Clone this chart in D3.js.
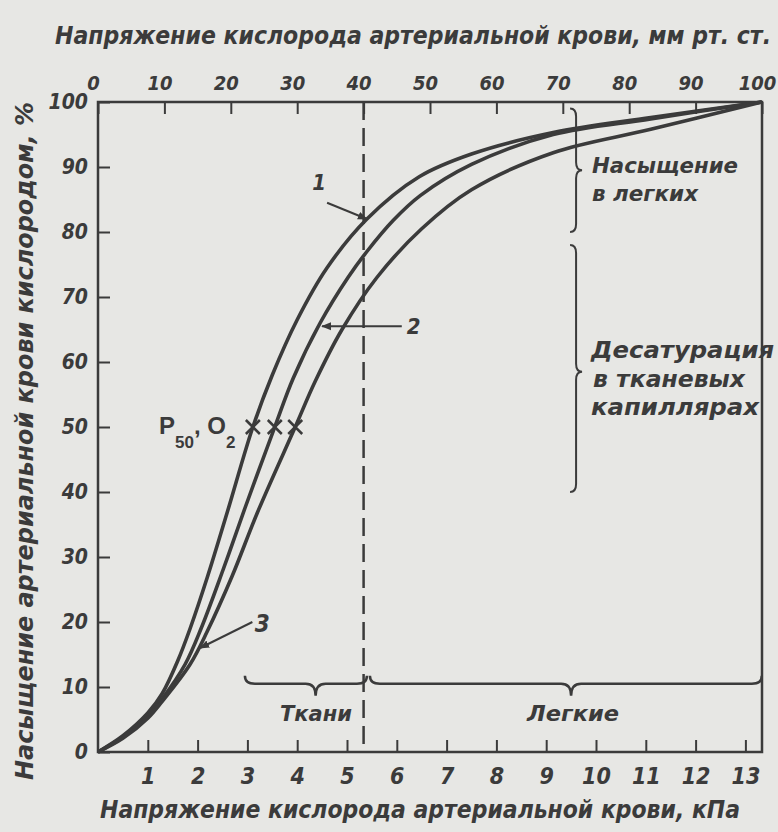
<!DOCTYPE html>
<html>
<head>
<meta charset="utf-8">
<script src="https://cdn.jsdelivr.net/npm/d3@7"></script>
<style>
  body { margin: 0; background: #e7e7e4; }
  svg text { font-family: "Liberation Sans Narrow", "DejaVu Sans Condensed", "Liberation Sans", sans-serif; font-style: italic; font-weight: bold; fill: #3b3b3b; }
</style>
</head>
<body>
<div id="chart"></div>
<script>
// ticks
var kpaTicks = [1, 2, 3, 4, 5, 6, 7, 8, 9, 10, 11, 12, 13];
var mmTicks = [0, 10, 20, 30, 40, 50, 60, 70, 80, 90, 100];
var satTicks = [0, 10, 20, 30, 40, 50, 60, 70, 80, 90, 100];

// curves: [kPa, saturation %]
var curve1 = [[0, 0], [0.5, 2.5], [1.0, 6], [1.29, 9], [1.6, 14], [1.85, 19], [2.2, 27], [2.6, 37], [3.11, 50], [3.5, 58], [4.0, 66.5], [4.6, 74.5], [5.4, 82], [6.45, 88.5], [7.5, 92], [9.14, 95.3], [11.1, 97.6], [13.33, 100]];
var curve2 = [[0, 0], [0.5, 2.3], [1.0, 5.5], [1.29, 8.2], [1.75, 13.5], [2.07, 19], [2.51, 28], [2.95, 37.5], [3.55, 50], [3.92, 57.5], [4.46, 66], [5.02, 73], [5.4, 77], [5.93, 81.8], [6.47, 85.6], [7.5, 90.4], [9.14, 95], [11.1, 97.4], [13.33, 100]];
var curve3 = [[0, 0], [0.5, 2.1], [1.0, 5.2], [1.29, 7.8], [1.85, 13.5], [2.19, 18.5], [2.69, 27], [3.21, 37], [3.96, 50], [4.36, 57], [4.9, 65], [5.6, 73], [6.5, 80.5], [7.5, 86.5], [9.14, 92.2], [11.1, 95.8], [13.33, 100]];
var p50 = [3.11, 3.55, 3.96];   // kPa at 50 %

// annotations (mm Hg / % / kPa)
var dashedMm = 40;
var lungSat = [99, 80];        // Насыщение в легких
var tissueSat = [78, 40];      // Десатурация
var tissueKpa = [2.95, 5.4];   // Ткани
var lungKpa = [5.46, 13.33];   // Легкие

var w = 778, h = 832;
var svg = d3.select("#chart").append("svg")
  .attr("width", w)
  .attr("height", h);

var x = d3.scaleLinear().domain([0, 100 / 7.5]).range([98, 762]);
var xMm = d3.scaleLinear().domain([0, 100]).range([98, 762]);
var y = d3.scaleLinear().domain([0, 100]).range([752, 102]);

var ink = "#3b3b3b";

svg.append("defs").append("marker")
  .attr("id", "arr")
  .attr("viewBox", "0 0 10 10")
  .attr("refX", 9).attr("refY", 5)
  .attr("markerWidth", 5).attr("markerHeight", 5)
  .attr("orient", "auto")
  .append("path")
  .attr("d", "M0,1L10,5L0,9z")
  .attr("fill", ink);

// frame
svg.append("rect")
  .attr("x", x(0)).attr("y", y(100))
  .attr("width", x.range()[1] - x(0))
  .attr("height", y(0) - y(100))
  .attr("fill", "none")
  .attr("stroke", ink)
  .attr("stroke-width", 2.5);

// axes
var gb = svg.append("g")
  .attr("transform", "translate(0," + y(0) + ")")
  .call(d3.axisBottom(x).tickValues(kpaTicks).tickSizeInner(-12).tickSizeOuter(0).tickPadding(16));
var gt = svg.append("g")
  .attr("transform", "translate(0," + y(100) + ")")
  .call(d3.axisTop(xMm).tickValues(mmTicks).tickSizeInner(-12).tickSizeOuter(0).tickPadding(12));
var gl = svg.append("g")
  .attr("transform", "translate(" + x(0) + ",0)")
  .call(d3.axisLeft(y).tickValues(satTicks).tickSizeInner(-12).tickSizeOuter(0).tickPadding(10));

[gb, gt, gl].forEach(function(g) {
  g.select(".domain").remove();
  g.selectAll(".tick line").attr("stroke", ink).attr("stroke-width", 2);
  g.selectAll(".tick text").attr("font-size", 21).attr("fill", ink);
});
gb.selectAll(".tick text").attr("font-size", 23);
gt.selectAll(".tick text").attr("font-size", 20).attr("dx", -5);

// dashed line at 40 mm Hg
svg.append("line")
  .attr("x1", xMm(dashedMm)).attr("x2", xMm(dashedMm))
  .attr("y1", y(100)).attr("y2", y(0))
  .attr("stroke", ink)
  .attr("stroke-width", 2.5)
  .attr("stroke-dasharray", "18,8");

// curves
var line = d3.line()
  .x(function(d) { return x(d[0]); })
  .y(function(d) { return y(d[1]); })
  .curve(d3.curveCatmullRom.alpha(0.5));

svg.selectAll("path.curve")
  .data([curve1, curve2, curve3])
  .enter()
  .append("path")
  .attr("class", "curve")
  .attr("d", line)
  .attr("fill", "none")
  .attr("stroke", ink)
  .attr("stroke-width", 3.6);

// P50 crosses
svg.selectAll("path.cross")
  .data(p50)
  .enter()
  .append("path")
  .attr("class", "cross")
  .attr("d", function(d) {
    var cx = x(d), cy = y(50), s = 7;
    return "M" + (cx - s) + "," + (cy - s) + "L" + (cx + s) + "," + (cy + s) +
      "M" + (cx - s) + "," + (cy + s) + "L" + (cx + s) + "," + (cy - s);
  })
  .attr("stroke", ink)
  .attr("stroke-width", 2.5);

var p = svg.append("text")
  .attr("x", 159).attr("y", y(50) + 7)
  .style("font-style", "normal")
  .style("font-family", "Liberation Sans, sans-serif")
  .attr("font-size", 24);
p.append("tspan").text("P");
p.append("tspan").attr("dy", 14).attr("font-size", 17).text("50");
p.append("tspan").attr("dy", -14).text(", O");
p.append("tspan").attr("dy", 14).attr("font-size", 17).text("2");

// braces
function vBrace(xp, y1, y2, ym, d) {
  return "M" + (xp - 6) + "," + y1 +
    "Q" + xp + "," + y1 + " " + xp + "," + (y1 + 8) +
    "L" + xp + "," + (ym - 8) +
    "Q" + xp + "," + ym + " " + (xp + d) + "," + ym +
    "Q" + xp + "," + ym + " " + xp + "," + (ym + 8) +
    "L" + xp + "," + (y2 - 8) +
    "Q" + xp + "," + y2 + " " + (xp - 6) + "," + y2;
}
function hBrace(yp, x1, x2, xm, d) {
  return "M" + x1 + "," + (yp - 8) +
    "Q" + x1 + "," + yp + " " + (x1 + 10) + "," + yp +
    "L" + (xm - 10) + "," + yp +
    "Q" + xm + "," + yp + " " + xm + "," + (yp + d) +
    "Q" + xm + "," + yp + " " + (xm + 10) + "," + yp +
    "L" + (x2 - 10) + "," + yp +
    "Q" + x2 + "," + yp + " " + x2 + "," + (yp - 8);
}
var braceX = x(9.6);
svg.append("path")
  .attr("d", vBrace(braceX, y(lungSat[0]), y(lungSat[1]), y(89.5), 6))
  .attr("fill", "none").attr("stroke", ink).attr("stroke-width", 2);
svg.append("path")
  .attr("d", vBrace(braceX, y(tissueSat[0]), y(tissueSat[1]), y(58.5), 6))
  .attr("fill", "none").attr("stroke", ink).attr("stroke-width", 2);
svg.append("path")
  .attr("d", hBrace(y(10.5), x(tissueKpa[0]), x(tissueKpa[1]), x(4.37), 12))
  .attr("fill", "none").attr("stroke", ink).attr("stroke-width", 2.5);
svg.append("path")
  .attr("d", hBrace(y(10.5), x(lungKpa[0]), x(lungKpa[1]), x(9.5), 12))
  .attr("fill", "none").attr("stroke", ink).attr("stroke-width", 2.5);

function label(tx, ty, str, size, len) {
  var t = svg.append("text")
    .attr("x", tx).attr("y", ty)
    .attr("font-size", size)
    .text(str);
  if (len) t.attr("textLength", len).attr("lengthAdjust", "spacingAndGlyphs");
  return t;
}
label(592, 173, "Насыщение", 22, 146);
label(592, 201, "в легких", 22, 106);
label(591, 358, "Десатурация", 23, 183);
label(593, 387, "в тканевых", 23, 152);
label(591, 415, "капиллярах", 23, 168);
label(280, 721, "Ткани", 22, 72);
label(527, 721, "Легкие", 22, 92);

// curve pointers
function pointer(x1, y1, x2, y2) {
  svg.append("line")
    .attr("x1", x1).attr("y1", y1).attr("x2", x2).attr("y2", y2)
    .attr("stroke", ink).attr("stroke-width", 2)
    .attr("marker-end", "url(#arr)");
}
pointer(x(4.6), y(84.5), x(5.4), y(82));
label(x(4.3), y(86.5), "1", 22);
pointer(x(6.1), y(65.5), x(4.5), y(65.5));
label(x(6.2), y(64.3), "2", 22);
pointer(x(3.1), y(20), x(2.05), y(16));
label(x(3.15), y(18.5), "3", 24);

// titles
label(55, 44, "Напряжение кислорода артериальной крови, мм рт. ст.", 24, 716);
label(100, 818, "Напряжение кислорода артериальной крови, кПа", 24, 640);
svg.append("text")
  .attr("transform", "translate(33,780) rotate(-90)")
  .attr("font-size", 24)
  .attr("textLength", 678)
  .attr("lengthAdjust", "spacingAndGlyphs")
  .text("Насыщение артериальной крови кислородом, %");
</script>
</body>
</html>
